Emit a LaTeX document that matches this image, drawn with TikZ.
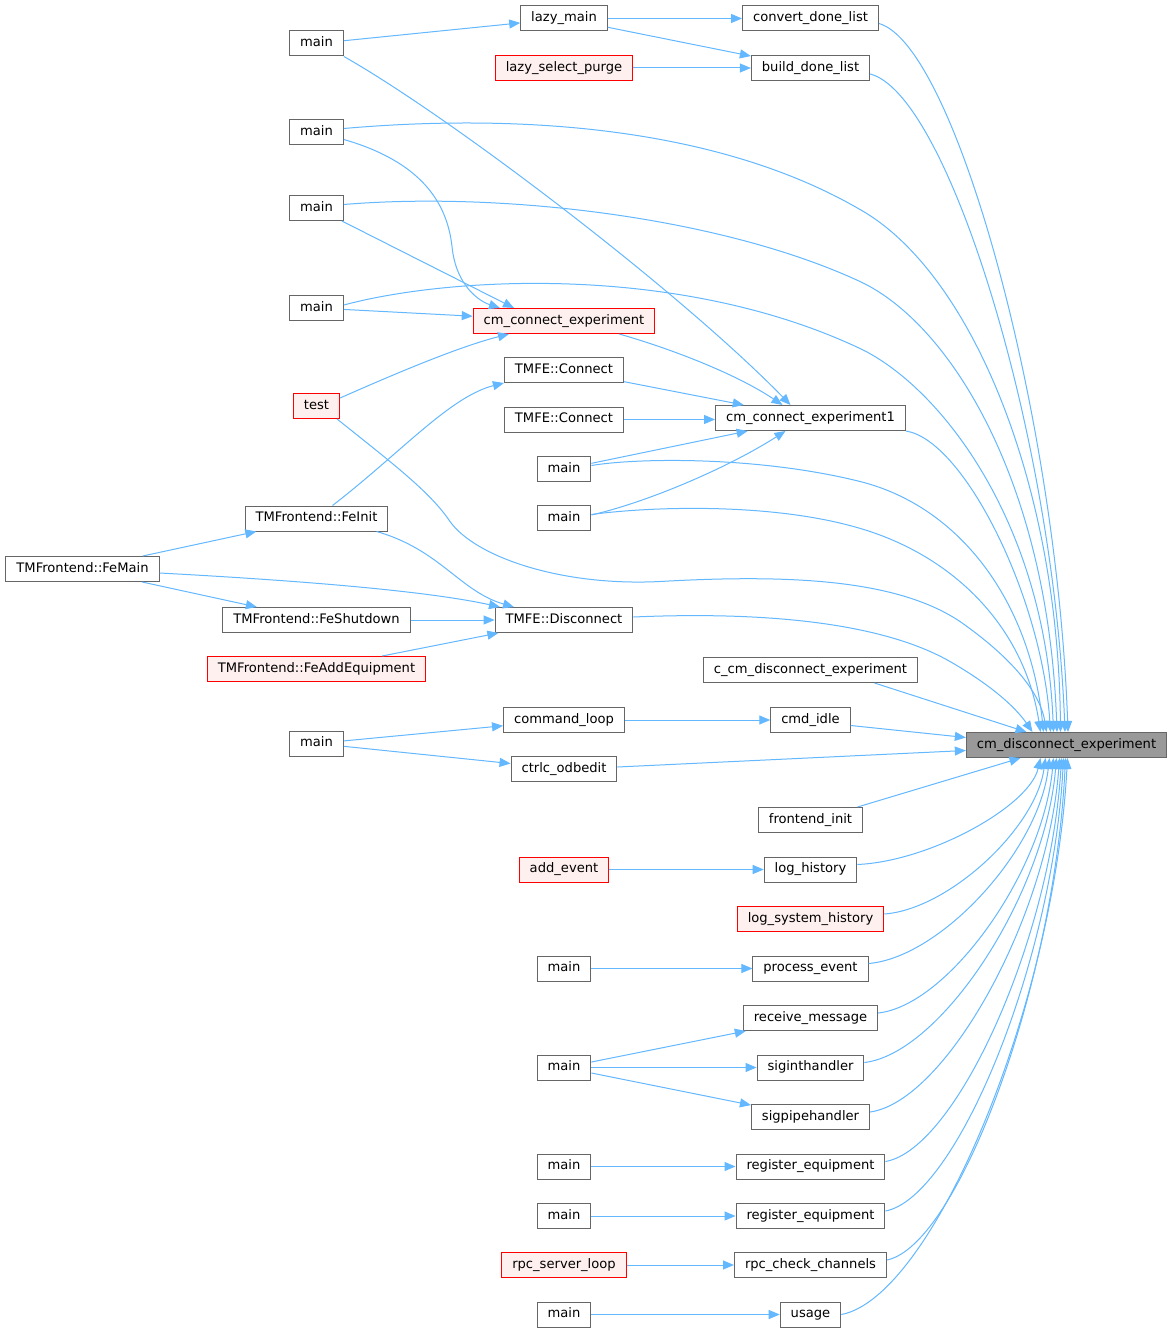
\documentclass[tikz,border=0pt]{standalone}
\usepackage{fontspec}
\setmainfont{DejaVu Sans}
\usetikzlibrary{arrows.meta,calc}
\definecolor{edgec}{HTML}{63B8FF}
\definecolor{boxc}{HTML}{666666}
\definecolor{redfill}{HTML}{FFF0F0}
\definecolor{mainfill}{HTML}{999999}
\tikzset{
 fn/.style={draw=boxc, fill=white, line width=1pt, inner xsep=10.5pt, inner ysep=0pt,
   minimum height=25pt, text height=9.6pt, text depth=3pt, font=\fontsize{13.1}{15}\selectfont},
 fnred/.style={fn, draw=red, fill=redfill},
 fnmain/.style={fn, fill=mainfill},
 conn/.style={draw=edgec, line width=1pt, -{Triangle[length=11pt,width=9pt]}},
}
\newcommand\dcurve[2]{\draw[conn] (#1) let \p1=(#1), \p2=(#2) in
  .. controls ({\x1+0.4*(\x2-\x1)},{\y1+0.03*(\y2-\y1)}) and ({\x2-0.06*(\x2-\x1)},{\y1+0.55*(\y2-\y1)}) .. (#2);}
\begin{document}
\begin{tikzpicture}[x=1pt,y=-1pt]
\fill[white] (0,-1.5) rectangle (1173,1330.5);
\useasboundingbox (0,-1.5) rectangle (1173,1330.5);

% target
\node[fnmain] (D) at (1066.5,743.5) {cm\_disconnect\_experiment};

% column 4
\node[fn] (a1) at (810.5,17) {convert\_done\_list};
\node[fn] (a2) at (810.5,66.5) {build\_done\_list};
\node[fn] (a3) at (810.5,416.5) {cm\_connect\_experiment1};
\node[fn] (a4) at (810.5,668.5) {c\_cm\_disconnect\_experiment};
\node[fn] (a5) at (810.5,718.5) {cmd\_idle};
\node[fn] (a6) at (810.5,818.5) {frontend\_init};
\node[fn] (a7) at (810.5,868) {log\_history};
\node[fnred] (a8) at (810.5,917.5) {log\_system\_history};
\node[fn] (a9) at (810.5,967) {process\_event};
\node[fn] (a10) at (810.5,1016.5) {receive\_message};
\node[fn] (a11) at (810.5,1066) {siginthandler};
\node[fn] (a12) at (810.5,1115.5) {sigpipehandler};
\node[fn] (a13) at (810.5,1165) {register\_equipment};
\node[fn] (a14) at (810.5,1214.5) {register\_equipment};
\node[fn] (a15) at (810.5,1263.5) {rpc\_check\_channels};
\node[fn] (a16) at (810.5,1313) {usage};

% column 3
\node[fn] (b1) at (564,17) {lazy\_main};
\node[fnred] (b2) at (564,66.5) {lazy\_select\_purge};
\node[fnred] (b3) at (564,319.5) {cm\_connect\_experiment};
\node[fn] (b4) at (564,368.5) {TMFE::Connect};
\node[fn] (b5) at (564,418) {TMFE::Connect};
\node[fn] (b6) at (564,467.5) {main};
\node[fn] (b7) at (564,516.5) {main};
\node[fn] (b8) at (564,618.5) {TMFE::Disconnect};
\node[fn] (b9) at (564,718.5) {command\_loop};
\node[fn] (b10) at (564,767.5) {ctrlc\_odbedit};
\node[fnred] (b11) at (564,868) {add\_event};
\node[fn] (b12) at (564,967) {main};
\node[fn] (b13) at (564,1066) {main};
\node[fn] (b14) at (564,1165) {main};
\node[fn] (b15) at (564,1214.5) {main};
\node[fnred] (b16) at (564,1263.5) {rpc\_server\_loop};
\node[fn] (b17) at (564,1313) {main};

% column 2
\node[fn] (c1) at (316.5,42) {main};
\node[fn] (c2) at (316.5,130.5) {main};
\node[fn] (c3) at (316.5,206.5) {main};
\node[fn] (c4) at (316.5,306.5) {main};
\node[fnred] (c5) at (316.5,404.5) {test};
\node[fn] (c6) at (316.5,517) {TMFrontend::FeInit};
\node[fn] (c7) at (316.5,618.5) {TMFrontend::FeShutdown};
\node[fnred] (c8) at (316.5,667.5) {TMFrontend::FeAddEquipment};
\node[fn] (c9) at (316.5,742) {main};

% column 1
\node[fn] (d1) at (82.5,567.5) {TMFrontend::FeMain};

% end points on the target
\coordinate (T1) at ([xshift=1.5pt]D.north);
\coordinate (T2) at ([xshift=-1.5pt]D.north);
\coordinate (T3) at ([xshift=-6pt]D.north);
\coordinate (T4) at ([xshift=-9.5pt]D.north);
\coordinate (T5) at ([xshift=-13pt]D.north);
\coordinate (T6) at ([xshift=-16pt]D.north);
\coordinate (T7) at ([xshift=-20pt]D.north);
\coordinate (T8) at ([xshift=-23pt]D.north);
\coordinate (T9) at ([xshift=-26pt]D.north);
\coordinate (T10) at ([xshift=-34pt]D.north);
\coordinate (T11) at ([xshift=-40pt]D.north);
\coordinate (B0) at ([xshift=-46pt]D.south);
\coordinate (B1) at ([xshift=-26pt]D.south);
\coordinate (B2) at ([xshift=-21pt]D.south);
\coordinate (B3) at ([xshift=-17pt]D.south);
\coordinate (B4) at ([xshift=-13pt]D.south);
\coordinate (B5) at ([xshift=-10pt]D.south);
\coordinate (B6) at ([xshift=-7pt]D.south);
\coordinate (B7) at ([xshift=-5pt]D.south);
\coordinate (B8) at ([xshift=-3pt]D.south);
\coordinate (B9) at ([xshift=-1pt]D.south);
\coordinate (B10) at ([xshift=1pt]D.south);

% edges into the target from above
\dcurve{[yshift=-5pt]a1.east}{T1}
\dcurve{[yshift=-6pt]a2.east}{T2}
\draw[conn] ([yshift=3.5pt]c2.east) .. controls (480,115) and (700,115) .. (860,208)
  .. controls (970,270) and (1058,480) .. (T3);
\draw[conn] ([yshift=3.5pt]c3.east) .. controls (500,190) and (720,215) .. (860,280)
  .. controls (950,322) and (1048,480) .. (T4);
\draw[conn] ([yshift=3pt]c4.east) .. controls (450,275) and (680,262) .. (860,347)
  .. controls (940,385) and (1045,520) .. (T5);
\dcurve{a3.south east}{T6}
\draw[conn] ([xshift=-3pt]c5.south east) .. controls (390,460) and (430,490) .. (450,520)
  .. controls (475,555) and (560,585) .. (660,580)
  .. controls (800,572) and (900,580) .. (960,620)
  .. controls (1010,655) and (1040,690) .. (T7);
\draw[conn] ([yshift=3.5pt]b6.east) .. controls (640,456) and (760,455) .. (860,480)
  .. controls (960,505) and (1030,600) .. (T8);
\draw[conn] ([yshift=3.5pt]b7.east) .. controls (650,505) and (780,500) .. (870,530)
  .. controls (960,560) and (1025,630) .. (T9);
\draw[conn] ([yshift=3pt]b8.east) .. controls (760,610) and (880,620) .. (950,660)
  .. controls (990,683) and (1015,705) .. (T10);
\draw[conn] ([xshift=64pt]a4.south) -- (T11);

% edges into the target from the left
\draw[conn] ([yshift=-5.5pt]a5.east) -- ([yshift=7.5pt]D.west);
\draw[conn] ([yshift=2pt]b10.east) -- ([yshift=-5.5pt]D.west);

% edges into the target from below
\draw[conn] ([xshift=47pt]a6.north) -- (B0);
\dcurve{[yshift=5pt]a7.east}{B1}
\dcurve{[yshift=5pt]a8.east}{B2}
\dcurve{[yshift=5pt]a9.east}{B3}
\dcurve{[yshift=5pt]a10.east}{B4}
\dcurve{[yshift=5pt]a11.east}{B5}
\dcurve{[yshift=5pt]a12.east}{B6}
\dcurve{[yshift=5pt]a13.east}{B7}
\dcurve{[yshift=5pt]a14.east}{B8}
\dcurve{[yshift=5pt]a15.east}{B9}
\dcurve{a16.east}{B10}

% other edges
\draw[conn] (b1) -- (a1);
\draw[conn] (b1) -- (a2);
\draw[conn] (b2) -- (a2);
\draw[conn] (c1) -- (b1);
\draw[conn] (c1.south east) .. controls (450,115) and (680,290) .. ([xshift=-20pt]a3.north);
\draw[conn] ([yshift=-7.5pt]c2.east) .. controls (420,160) and (447,200) .. (452,245)
  .. controls (456,285) and (480,300) .. ([xshift=-64pt]b3.north);
\draw[conn] ([xshift=-2pt]c3.south east) -- ([xshift=-50pt]b3.north);
\draw[conn] (c4) -- (b3);
\draw[conn] ([yshift=-5pt]c5.north east) .. controls (400,370) and (460,345) .. ([xshift=-55pt]b3.south);
\draw[conn] ([xshift=-36pt]b3.south east) .. controls (680,350) and (740,375) .. ([xshift=-28pt]a3.north);
\draw[conn] (b4) -- (a3);
\draw[conn] (b5.east) -- (a3.west |- b5.east);
\draw[conn] (b6) -- (a3);
\draw[conn] ([yshift=3pt]b7.east) .. controls (650,500) and (730,465) .. ([xshift=-25pt]a3.south);
\draw[conn] ([xshift=16pt]c6.north) .. controls (400,452) and (450,395) .. (b4.south west);
\draw[conn] ([xshift=60pt]c6.south) .. controls (440,548) and (460,590) .. ([xshift=-50pt]b8.north);
\draw[conn] (d1) -- (c6);
\draw[conn] (d1) -- (c7);
\draw[conn] ([yshift=-4pt]d1.east) .. controls (280,578) and (420,588) .. ([xshift=-64pt]b8.north);
\draw[conn] (c7) -- (b8);
\draw[conn] (c8) -- (b8);
\draw[conn] (b9) -- (a5);
\draw[conn] (c9) -- (b9);
\draw[conn] (c9) -- (b10);
\draw[conn] (b11) -- (a7);
\draw[conn] (b12) -- (a9);
\draw[conn] (b13) -- (a10);
\draw[conn] (b13) -- (a11);
\draw[conn] (b13) -- (a12);
\draw[conn] (b14) -- (a13);
\draw[conn] (b15) -- (a14);
\draw[conn] (b16) -- (a15);
\draw[conn] (b17) -- (a16);
\end{tikzpicture}
\end{document}
